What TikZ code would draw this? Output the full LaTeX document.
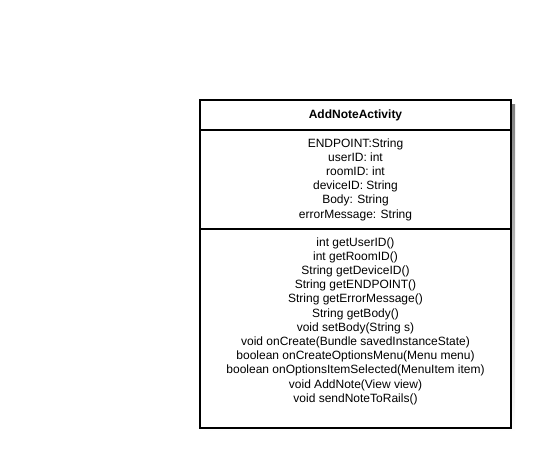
\documentclass[tikz,border=0pt]{standalone}
\usepackage{fontspec}
\setmainfont{Liberation Sans}
\usepackage{tikz}
\definecolor{shade}{HTML}{A0A0A0}

\begin{document}
\begin{tikzpicture}[x=1pt,y=-1pt,
  classtext/.style={align=center,font=\fontsize{12}{14.2}\selectfont,inner sep=0pt},
  frame/.style={line width=1.6pt,black}]
\useasboundingbox (0,0) rectangle (538,448);
% shadow and box
\fill[shade] (204,104) rectangle (515,432);
\fill[white] (200,100) rectangle (511,428);
\draw[frame] (200,100) rectangle (511,428);
\draw[frame] (200,130)--(511,130);
\draw[frame] (200,229)--(511,229);
% compartments
\node[classtext,font=\fontsize{12}{14}\selectfont\bfseries] (title) at (355.5,115) {AddNoteActivity};
\node[classtext] (attrs) at (355.5,179.5) {ENDPOINT:String\\userID: int\\roomID: int\\deviceID: String\\Body: String\\errorMessage: String};
\node[classtext] (ops) at (355.5,321) {int getUserID()\\int getRoomID()\\String getDeviceID()\\String getENDPOINT()\\String getErrorMessage()\\String getBody()\\void setBody(String s)\\void onCreate(Bundle savedInstanceState)\\boolean onCreateOptionsMenu(Menu menu)\\boolean onOptionsItemSelected(MenuItem item)\\void AddNote(View view)\\void sendNoteToRails()};
\end{tikzpicture}
\end{document}
